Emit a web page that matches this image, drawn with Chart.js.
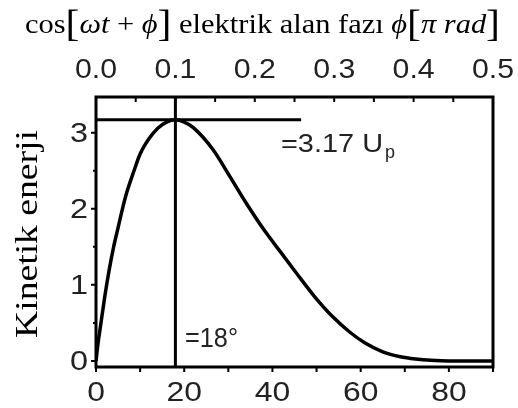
<!doctype html>
<html>

<head>
    <meta charset="utf-8">
    <title>Kinetik enerji</title>
    <script src="https://cdn.jsdelivr.net/npm/chart.js@4.4.0/dist/chart.umd.min.js"></script>
    <style>
        body { margin: 0; background: #fff; }
    </style>
</head>

<body>
    <canvas id="chart-area" width="518" height="408"></canvas>
    <script>
    // return energy (in Up) against the field phase at ionization (degrees)
    var phaseDeg = [0, 0.5, 1, 2, 3, 4, 5, 6, 7, 8.5, 10, 12, 14, 16, 18, 20, 22, 26.5, 30.3, 34,
        38, 41.6, 45.5, 49.5, 53.5, 57.5, 61, 65, 69, 72.5, 76, 80, 85, 90];
    var kinEnergy = [0, 0.25, 0.45, 0.85, 1.2, 1.5, 1.75, 2.0, 2.22, 2.48, 2.72, 2.92, 3.06, 3.14, 3.17, 3.14, 3.07, 2.78, 2.43, 2.08,
        1.73, 1.45, 1.15, 0.85, 0.59, 0.38, 0.235, 0.12, 0.055, 0.025, 0.008, 0, 0, 0];

    // cutoff marker
    var cutoffPhase = 18;
    var cutoffEnergy = 3.17;
    var cutoffLineEnd = 46.5;

    var SANS = '"Liberation Sans", Arial, sans-serif';
    var SERIF = '"Liberation Serif", "Times New Roman", serif';

    var curve = phaseDeg.map(function(x, i) { return { x: x, y: kinEnergy[i] }; });

    function drawScaled(ctx, text, x, y, sx, align) {
        var w = ctx.measureText(text).width;
        var x0 = align === 'center' ? -w / 2 : (align === 'right' ? -w : 0);
        ctx.save();
        ctx.translate(x, y);
        ctx.scale(sx, 1);
        ctx.textAlign = 'left';
        ctx.fillText(text, x0, 0);
        ctx.restore();
    }

    function drawFitted(ctx, text, x, y, width) {
        drawScaled(ctx, text, x, y, width / ctx.measureText(text).width, 'left');
    }

    var framePlugin = {
        id: 'frame',
        afterDraw: function(chart) {
            var ctx = chart.ctx;
            var a = chart.chartArea;
            var xs = chart.scales.x, ts = chart.scales.x2, ys = chart.scales.y;
            var v, p;
            ctx.save();
            ctx.strokeStyle = '#000';
            ctx.fillStyle = '#000';

            // box
            ctx.lineWidth = 3;
            ctx.strokeRect(a.left, a.top, a.right - a.left, a.bottom - a.top);

            // ticks
            ctx.lineWidth = 2;
            ctx.beginPath();
            for (v = xs.min; v <= xs.max + 1e-9; v += 10) {
                p = xs.getPixelForValue(v);
                ctx.moveTo(p, a.bottom);
                ctx.lineTo(p, a.bottom + 5);
            }
            for (v = ts.min + 0.05; v < ts.max - 1e-9; v += 0.05) {
                p = ts.getPixelForValue(v);
                ctx.moveTo(p, a.top);
                ctx.lineTo(p, a.top + 5);
            }
            for (v = 0; v <= ys.max; v += 0.5) {
                p = ys.getPixelForValue(v);
                ctx.moveTo(a.left, p);
                ctx.lineTo(a.left - (v % 1 === 0 ? 5 : 3), p);
            }
            ctx.stroke();

            // tick labels
            ctx.fillStyle = '#222';
            ctx.font = '27px ' + SANS;
            xs.ticks.forEach(function(t) {
                drawScaled(ctx, String(t.value), xs.getPixelForValue(t.value), 401, 1.18, 'center');
            });
            ts.ticks.forEach(function(t) {
                drawScaled(ctx, t.value.toFixed(1), ts.getPixelForValue(t.value), 78, 1.12, 'center');
            });
            ys.ticks.forEach(function(t) {
                drawScaled(ctx, String(t.value), 88, ys.getPixelForValue(t.value) + 9.5, 1.2, 'right');
            });

            // annotations
            ctx.font = '26px ' + SANS;
            drawFitted(ctx, '=3.17 U', 281, 152, 102);
            ctx.font = '18px ' + SANS;
            ctx.fillText('p', 385, 158);
            ctx.font = '27px ' + SANS;
            drawFitted(ctx, '=18\u00b0', 185, 347, 53);

            // title with math parts
            ctx.fillStyle = '#000';
            var up = '27px ' + SERIF, it = 'italic 27px ' + SERIF, br = '37px ' + SERIF;
            var parts = [
                ['cos', up], ['[', br], ['\u03c9t', it], [' + ', up], ['\u03d5', it], [']', br],
                [' elektrik alan faz\u0131 ', up], ['\u03d5', it], ['[', br], ['\u03c0', it], [' ', up],
                ['rad', it], [']', br]
            ];
            var total = 0;
            parts.forEach(function(s) { ctx.font = s[1]; s.push(ctx.measureText(s[0]).width); total += s[2]; });
            var sx = 475 / total;
            ctx.save();
            ctx.translate(25, 33);
            ctx.scale(sx, 1);
            ctx.textAlign = 'left';
            var cx = 0;
            parts.forEach(function(s) {
                ctx.font = s[1];
                ctx.fillText(s[0], cx, s[1] === br ? 3 : 0);
                cx += s[2];
            });
            ctx.restore();

            // y axis title
            ctx.font = '31px ' + SERIF;
            ctx.save();
            ctx.translate(37, 234);
            ctx.rotate(-Math.PI / 2);
            var yt = 'Kinetik enerji';
            var yw = ctx.measureText(yt).width;
            ctx.scale(208 / yw, 1);
            ctx.textAlign = 'left';
            ctx.fillText(yt, -yw / 2, 0);
            ctx.restore();

            ctx.restore();
        }
    };

    function fixSize(prop, size) {
        return function(scale) { scale[prop] = size; };
    }

    var config = {
        type: 'line',
        data: {
            datasets: [{
                data: curve,
                borderColor: '#000',
                borderWidth: 3.5,
                pointRadius: 0,
                cubicInterpolationMode: 'monotone',
                fill: false
            }, {
                data: [{ x: 0, y: cutoffEnergy }, { x: cutoffLineEnd, y: cutoffEnergy }],
                borderColor: '#000',
                borderWidth: 3,
                pointRadius: 0,
                fill: false
            }, {
                data: [{ x: cutoffPhase, y: -0.08 }, { x: cutoffPhase, y: 3.47 }],
                borderColor: '#000',
                borderWidth: 3,
                pointRadius: 0,
                fill: false
            }]
        },
        options: {
            responsive: false,
            animation: false,
            devicePixelRatio: 1,
            layout: { padding: { left: 0, right: 25, top: 0, bottom: 0 } },
            plugins: { legend: { display: false }, tooltip: { enabled: false } },
            scales: {
                x: {
                    type: 'linear', position: 'bottom', min: 0, max: 90,
                    ticks: { stepSize: 20, includeBounds: false, display: false },
                    grid: { display: false }, border: { display: false },
                    afterFit: fixSize('height', 41)
                },
                x2: {
                    type: 'linear', position: 'top', min: 0, max: 0.5,
                    ticks: { stepSize: 0.1, includeBounds: false, display: false },
                    grid: { display: false }, border: { display: false },
                    afterFit: fixSize('height', 97)
                },
                y: {
                    type: 'linear', position: 'left', min: -0.08, max: 3.47,
                    ticks: { stepSize: 1, includeBounds: false, display: false },
                    grid: { display: false }, border: { display: false },
                    afterFit: fixSize('width', 96)
                }
            }
        },
        plugins: [framePlugin]
    };

    window.onload = function() {
        var ctx = document.getElementById('chart-area').getContext('2d');
        window.myChart = new Chart(ctx, config);
    };
    </script>
</body>

</html>
